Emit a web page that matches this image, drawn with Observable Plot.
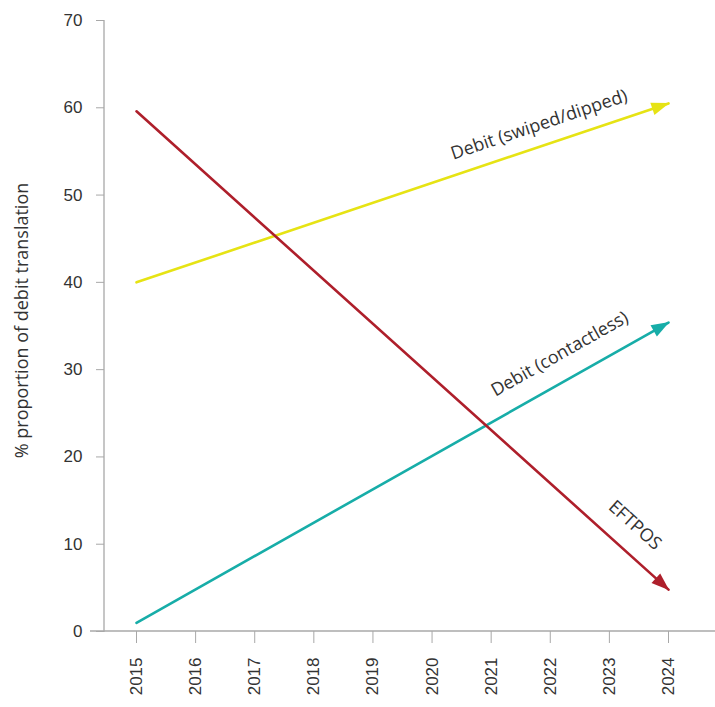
<!DOCTYPE html>
<html>
<head>
<meta charset="utf-8">
<script src="https://cdn.jsdelivr.net/npm/d3@7"></script>
<script src="https://cdn.jsdelivr.net/npm/@observablehq/plot@0.6"></script>
<style>
  html, body { margin: 0; padding: 0; background: #fff; }
  #chart svg { display: block; }
</style>
</head>
<body>
<div id="chart"></div>
<script>
// ---- data ----
const years = [2015, 2024];
const yearTicks = [2015, 2016, 2017, 2018, 2019, 2020, 2021, 2022, 2023, 2024];
const yTicks = [0, 10, 20, 30, 40, 50, 60, 70];
const seriesNames = ["Debit (swiped/dipped)", "Debit (contactless)", "EFTPOS"];
const swiped = [40, 60.5];
const contactless = [1, 35.4];
const eftpos = [59.6, 4.8];
const yTitle = "% proportion of debit translation";

const colors = ["#e6e314", "#17ada8", "#ae1f2b"];
const seriesValues = [swiped, contactless, eftpos];
const rows = seriesNames.flatMap((name, i) =>
  years.map((yr, j) => ({ series: name, year: yr, value: seriesValues[i][j] })));

// label placement along each line (fraction along, perpendicular offset)
const labelPlace = { "Debit (swiped/dipped)": [0.77, 21], "Debit (contactless)": [0.82, 26], "EFTPOS": [0.906, 26] };

const axisColor = "#a8a8a8";
const textColor = "#333";

const plot = Plot.plot({
  width: 715,
  height: 707,
  marginLeft: 104,
  marginTop: 20,
  marginBottom: 76,
  marginRight: 0,
  x: { domain: [2015, 2024], range: [136, 668] },
  y: { domain: [0, 70], range: [631, 20] },
  color: { domain: seriesNames, range: colors },
  style: { fontFamily: "Liberation Sans, Arial, sans-serif", fontSize: "17px", color: textColor, background: "#fff" },
  marks: [
    // axis lines
    (index, { x, y }, values, dims) => {
      const g = d3.create("svg:g").attr("stroke", axisColor).attr("stroke-width", 1.3);
      g.append("line").attr("x1", dims.marginLeft).attr("x2", dims.marginLeft)
        .attr("y1", y(70)).attr("y2", y(0) + 1);
      g.append("line").attr("x1", dims.marginLeft - 14).attr("x2", dims.width)
        .attr("y1", y(0)).attr("y2", y(0));
      return g.node();
    },
    Plot.axisY({
      ticks: yTicks, tickSize: 8, tickPadding: 14, stroke: axisColor,
      tickFormat: d => String(d), label: null, fill: textColor
    }),
    Plot.axisX({
      ticks: yearTicks, tickSize: 12, tickPadding: 14, tickRotate: -90, stroke: axisColor,
      tickFormat: d => String(d), label: null, fill: textColor
    }),
    Plot.line(rows, { x: "year", y: "value", z: "series", stroke: "series", strokeWidth: 2.6, markerEnd: "arrow" }),
    // rotated line labels
    (index, { x, y }) => {
      const g = d3.create("svg:g").attr("font-family", "Open Sans, sans-serif").attr("font-size", 18)
        .attr("fill", textColor).attr("text-anchor", "middle");
      seriesNames.forEach((name, i) => {
        const v = seriesValues[i];
        const x0 = x(years[0]), y0 = y(v[0]), x1 = x(years[1]), y1 = y(v[1]);
        const a = Math.atan2(y1 - y0, x1 - x0);
        const [t, off] = labelPlace[name];
        const px = x0 + (x1 - x0) * t + Math.sin(a) * off;
        const py = y0 + (y1 - y0) * t - Math.cos(a) * off;
        g.append("text").attr("transform", `translate(${px},${py}) rotate(${a * 180 / Math.PI})`)
          .attr("dy", "0.35em").text(name);
      });
      return g.node();
    },
    // y axis title
    (index, scales, values, dims) => {
      const cy = (dims.marginTop + dims.height - dims.marginBottom) / 2;
      return d3.create("svg:text").attr("transform", `translate(22,${cy - 5}) rotate(-90)`)
        .attr("text-anchor", "middle").attr("dy", "0.35em")
        .attr("font-family", "Open Sans, sans-serif").attr("font-size", 18).attr("fill", textColor)
        .text(yTitle).node();
    }
  ]
});

// filled triangular arrowheads
d3.select(plot).selectAll("marker").each(function () {
  const m = d3.select(this);
  const c = m.attr("stroke");
  m.attr("viewBox", "-20 -8 22 16").attr("markerWidth", 22).attr("markerHeight", 16)
    .attr("markerUnits", "userSpaceOnUse").attr("fill", c).attr("stroke", "none");
  m.selectAll("path").attr("d", "M-17,-6.5L1,0L-17,6.5Z");
});

document.getElementById("chart").appendChild(plot);
</script>
</body>
</html>
